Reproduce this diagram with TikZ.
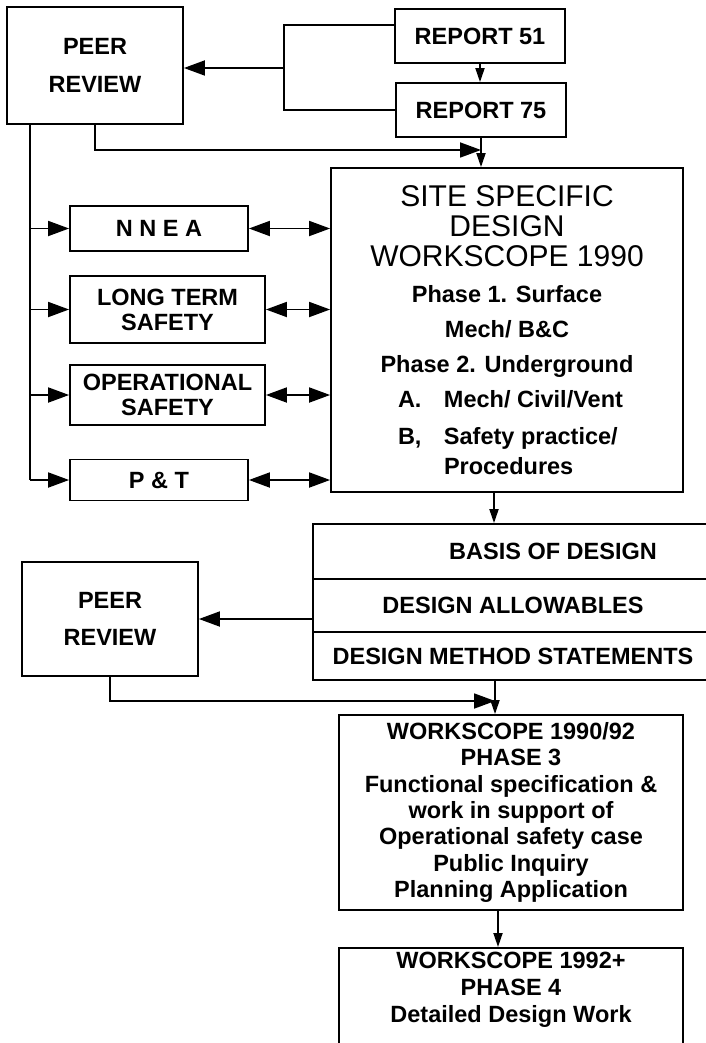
\documentclass[tikz,border=0pt]{standalone}
\usepackage{fontspec}
\setmainfont{Liberation Sans}
\usetikzlibrary{arrows.meta}

\begin{document}
\begin{tikzpicture}[x=1pt,y=-1pt,line width=1.8pt,
  big/.style={-{Triangle[length=21pt,width=15pt]}},
  small/.style={-{Triangle[length=14pt,width=9pt]}},
  dbl/.style={{Triangle[length=21pt,width=15pt]}-{Triangle[length=21pt,width=15pt]}},
  box/.style={draw,inner sep=0pt,align=center,font=\fontsize{23.5}{38}\selectfont\bfseries}]
\useasboundingbox (0,0) rectangle (706,1043);
% top part
\node[box,minimum width=176pt,minimum height=117pt] (peer1) at (95,65.5) {PEER\\REVIEW};
\node[box,minimum width=170pt,minimum height=54pt] (rep51) at (480,36) {REPORT 51};
\node[box,minimum width=170pt,minimum height=54pt] (rep75) at (481,110) {REPORT 75};
\node[box,minimum width=178pt,minimum height=45pt] (nnea) at (159,228.5) {N N E A};
\node[box,minimum width=195pt,minimum height=67pt,font=\fontsize{23.5}{25}\selectfont\bfseries] (lts) at (167.5,309.5) {LONG TERM\\SAFETY};
\node[box,minimum width=195pt,minimum height=60pt,font=\fontsize{23.5}{25}\selectfont\bfseries] (ops) at (167.5,395) {OPERATIONAL\\SAFETY};
\node[box,minimum width=178pt,minimum height=41pt] (pt) at (159,480) {P \& T};
\node[box,minimum width=352pt,minimum height=324pt,font=\fontsize{23.5}{35}\selectfont\bfseries] (site) at (507,330)
  {{\mdseries\fontsize{30}{30}\selectfont SITE SPECIFIC}\\[-5pt]
   {\mdseries\fontsize{30}{30}\selectfont DESIGN}\\[-5pt]
   {\mdseries\fontsize{30}{30}\selectfont WORKSCOPE 1990}\\[1pt]
   Phase 1. Surface\\
   Mech/ B\&C\\
   Phase 2. Underground\\
   \makebox[218pt][l]{\makebox[46pt][l]{A.}Mech/ Civil/Vent}\\[2pt]
   \makebox[218pt][l]{\makebox[46pt][l]{B,}Safety practice/}\\[-5pt]
   \makebox[218pt][l]{\hspace*{46pt}Procedures}};
% design basis
\node[box,minimum width=400pt,minimum height=55pt] (bod) at (513,551.5) {\hspace*{80pt}BASIS OF DESIGN};
\node[box,minimum width=400pt,minimum height=53pt] (dal) at (513,605.5) {DESIGN ALLOWABLES};
\node[box,minimum width=400pt,minimum height=48pt] (dms) at (513,656) {DESIGN METHOD STATEMENTS};
\node[box,minimum width=176pt,minimum height=114pt,font=\fontsize{23.5}{37}\selectfont\bfseries] (peer2) at (110,619) {PEER\\REVIEW};
% later phases
\node[box,minimum width=344pt,minimum height=195pt,font=\fontsize{23.5}{26.3}\selectfont\bfseries] (ws) at (511,812.5)
  {WORKSCOPE 1990/92\\PHASE 3\\Functional specification \&\\work in support of\\Operational safety case\\Public Inquiry\\Planning Application};
\node[box,minimum width=344pt,anchor=north,inner ysep=4pt,text depth=100pt,font=\fontsize{23.5}{27}\selectfont\bfseries] (p4) at (511,947)
  {WORKSCOPE 1992+\\PHASE 4\\Detailed Design Work};
% connectors
\coordinate (jn) at (284,68);
\coordinate (m1) at (481,150);
\coordinate (m2) at (495,701);
\draw ([yshift=11pt]rep51.west) -| (jn) |- (rep75.west);
\draw[big] (jn) -- (peer1.east |- jn);
\draw[small] (rep51.south) -- (rep51.south |- rep75.north);
\draw[big] (peer1.south) |- (m1);
\draw[small] (rep75.south) -- (rep75.south |- site.north);
\draw ([xshift=24pt]peer1.south west) -- ([xshift=24pt]peer1.south west |- pt.west);
\foreach \n in {nnea,lts,ops,pt} {
  \draw[big] ([xshift=24pt]peer1.south west |- \n.west) -- (\n.west);
  \draw[dbl] (\n.east) -- (site.west |- \n.east);
}
\draw[small] ([xshift=-13pt]site.south) -- ([xshift=-13pt]site.south |- bod.north);
\draw[big] (dal.west |- peer2.east) -- (peer2.east);
\draw[big] (peer2.south) |- (m2);
\draw[small] (dms.south -| m2) -- (m2 |- ws.north);
\draw[small] ([xshift=-13pt]ws.south) -- ([xshift=-13pt]ws.south |- p4.north);
\end{tikzpicture}
\end{document}
